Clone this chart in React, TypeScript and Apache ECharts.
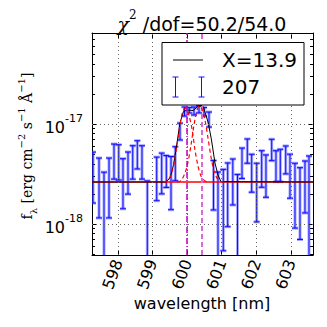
import React, { useEffect, useRef } from 'react';
import * as echarts from 'echarts';

// ---- data (flux in units of 1e-18 erg cm^-2 s^-1 Å^-1) ----
const wavelength = [597.283, 597.457, 597.601, 597.746, 597.890, 598.026, 598.150, 598.295, 598.431, 598.564, 598.699, 598.853, 599.124, 599.269, 599.402, 599.538, 599.662, 599.798, 599.928, 600.066, 600.202, 600.347, 600.491, 600.636, 600.766, 600.896, 601.049, 601.176, 601.324, 601.460, 601.590, 601.743, 601.870, 602.014, 602.159, 602.283, 602.448, 602.572, 602.697, 602.853, 602.977, 603.121, 603.266, 603.410, 603.526];
const flux = [3.43, 2.86, 1.2, 2.86, 4.56, 4.48, 2.96, 3.62, 4.44, 5.18, 4.44, 0.8, 3.19, 3.56, 3.58, 3.06, 4.32, 8.56, 13.4, 13.75, 13.55, 14.1, 13.3, 11.25, 2.85, 1.0, 2.03, 2.51, 3.01, 1.0, 4.3, 5.57, 3.53, 2.55, 3.87, 3.38, 5.67, 4.03, 4.12, 4.6, 3.4, 2.48, 2.18, 2.78, 1.4];
const fluxErr = [1.81, 1.71, 2.1, 1.71, 1.75, 1.73, 1.54, 1.63, 1.63, 1.63, 1.63, 1.9, 1.48, 1.56, 1.26, 1.67, 1.61, 1.64, 1.4, 0.85, 1.25, 1.2, 1.3, 1.93, 1.47, 2.31, 1.49, 1.57, 1.46, 2.13, 1.45, 1.52, 1.45, 1.5, 1.54, 1.53, 1.37, 1.38, 1.47, 1.43, 1.59, 1.57, 1.48, 1.49, 3.39];

const modelW = [597.254, 599.384, 599.509, 599.610, 599.711, 599.798, 599.893, 600.000, 600.182, 600.327, 600.471, 600.616, 600.708, 600.809, 600.896, 600.983, 603.642];
const modelF = [2.63, 2.63, 2.88, 3.89, 6.46, 10.23, 13.27, 13.8, 13.65, 15.14, 14.96, 10.23, 6.92, 4.07, 3.09, 2.65, 2.63];

const contW = [597.254, 603.642];
const contF = [2.63, 2.63];

const comp1W = [599.306, 599.451, 599.566, 599.653, 599.740, 599.827, 599.884, 599.942, 600.000, 600.058, 600.145, 600.231, 600.318, 600.405, 600.520, 600.636];
const comp1F = [2.63, 2.75, 3.31, 4.57, 7.24, 11.2, 13.5, 14.3, 13.8, 12.2, 8.91, 5.50, 3.80, 3.02, 2.69, 2.63];
const comp2W = [599.711, 599.827, 599.942, 600.029, 600.116, 600.202, 600.289, 600.361, 600.434, 600.520, 600.607, 600.694, 600.780, 600.867, 600.983, 601.098];
const comp2F = [2.63, 2.72, 3.24, 4.17, 6.17, 9.77, 13.8, 15.1, 14.1, 10.96, 7.24, 4.68, 3.39, 2.88, 2.66, 2.63];

const lineCenters = [600.0, 600.425];

const xTicks = [598, 599, 600, 601, 602, 603];
const yMajorTicks = [1, 10];
const yMajorExp = ['-18', '-17'];
const yMinorTicks = [0.5, 0.6, 0.7, 0.8, 0.9, 2, 3, 4, 5, 6, 7, 8, 9, 20, 30, 40, 50, 60, 70, 80];

const legendLabels = ['X=13.9', '207'];
const titleRest = ' /dof=50.2/54.0';

const X_MIN = 597.254;
const X_MAX = 603.642;
const Y_MIN = 0.49;
const Y_MAX = 81.3;

const SANS = 'DejaVu Sans';
const SERIF = 'DejaVu Serif';

function buildOption() {
  const gridL = 92, gridT = 33, gridR = 14, gridB = 72;

  const xAxisBase = {
    type: 'value', min: X_MIN, max: X_MAX, gridIndex: 0,
    axisLine: { show: true, onZero: false, lineStyle: { color: '#000', width: 1 } },
    axisTick: { show: true, inside: true, length: 5, customValues: xTicks, lineStyle: { color: '#000', width: 1 } },
    splitLine: { show: false },
  };
  const yAxisBase = {
    type: 'log', logBase: 10, min: Y_MIN, max: Y_MAX, gridIndex: 0,
    axisLine: { show: true, onZero: false, lineStyle: { color: '#000', width: 1 } },
    splitLine: { show: false },
    minorTick: { show: false },
  };

  const errData = wavelength.map((w, i) => [w, flux[i], fluxErr[i]]);
  const LZ = 100;

  return {
    animation: false,
    backgroundColor: '#fff',
    grid: { left: gridL, top: gridT, right: gridR, bottom: gridB, containLabel: false },
    xAxis: [
      {
        ...xAxisBase, position: 'bottom',
        axisLabel: {
          show: true, customValues: xTicks, rotate: 70, fontSize: 16, color: '#000', fontFamily: SANS, margin: 5,
          formatter: (v: number) => String(Math.round(v)),
        },
      },
      { ...xAxisBase, position: 'top', axisLabel: { show: false } },
    ],
    yAxis: [
      {
        ...yAxisBase, position: 'left',
        axisTick: { show: true, inside: true, length: 5, customValues: yMajorTicks, lineStyle: { color: '#000' } },
        axisLabel: {
          show: true, customValues: yMajorTicks, margin: 9, color: '#000',
          formatter: (v: number) => {
            const idx = yMajorTicks.findIndex((t) => Math.abs(t - v) / t < 1e-6);
            return idx >= 0 ? `{b|10}{s|${yMajorExp[idx]}}` : '';
          },
          rich: {
            b: { fontSize: 16, fontFamily: SANS, color: '#000', lineHeight: 22, verticalAlign: 'bottom' },
            s: { fontSize: 11, fontFamily: SANS, color: '#000', lineHeight: 22, verticalAlign: 'top' },
          },
        },
      },
      {
        ...yAxisBase, position: 'right',
        axisTick: { show: true, inside: true, length: 5, customValues: yMajorTicks, lineStyle: { color: '#000' } },
        axisLabel: { show: false },
      },
      {
        ...yAxisBase, position: 'left',
        axisLine: { show: false },
        axisTick: { show: true, inside: true, length: 3, customValues: yMinorTicks, lineStyle: { color: '#000' } },
        axisLabel: { show: false },
      },
      {
        ...yAxisBase, position: 'right',
        axisLine: { show: false },
        axisTick: { show: true, inside: true, length: 3, customValues: yMinorTicks, lineStyle: { color: '#000' } },
        axisLabel: { show: false },
      },
    ],
    series: [
      {
        type: 'line', data: [], z: 1, silent: true,
        markLine: {
          silent: true, symbol: ['none', 'none'], label: { show: false },
          lineStyle: { color: '#666', width: 1, type: [1, 3] },
          data: [
            ...xTicks.map((v) => ({ xAxis: v })),
            ...yMajorTicks.map((v) => ({ yAxis: v })),
          ],
        },
      },
      {
        type: 'custom', name: 'errors', z: 2, clip: true,
        data: errData,
        encode: { x: 0, y: 1 },
        renderItem: (params: any, api: any) => {
          const x = api.value(0);
          const c = api.value(1);
          const e = api.value(2);
          const hi = c + e;
          let lo = c - e;
          const clipped = lo <= 0;
          if (clipped) lo = Y_MIN * 0.1;
          const pT = api.coord([x, hi]);
          const pB = api.coord([x, lo]);
          const cw = 3;
          const mk = (stroke: string, lw: number) => {
            const arr: any[] = [
              { type: 'line', shape: { x1: pT[0], y1: pT[1], x2: pB[0], y2: pB[1] }, style: { stroke, lineWidth: lw } },
              { type: 'line', shape: { x1: pT[0] - cw, y1: pT[1], x2: pT[0] + cw, y2: pT[1] }, style: { stroke, lineWidth: lw } },
            ];
            if (!clipped) {
              arr.push({ type: 'line', shape: { x1: pB[0] - cw, y1: pB[1], x2: pB[0] + cw, y2: pB[1] }, style: { stroke, lineWidth: lw } });
            }
            return arr;
          };
          return { type: 'group', children: [...mk('rgba(60,60,255,0.45)', 3), ...mk('#1010ff', 1)] };
        },
      },
      {
        type: 'line', name: 'continuum', z: 3, symbol: 'none', silent: true,
        data: contW.map((w, i) => [w, contF[i]]),
        lineStyle: { color: '#ff0000', width: 1.6 },
      },
      {
        type: 'line', name: 'model', z: 4, symbol: 'none', silent: true,
        data: modelW.map((w, i) => [w, modelF[i]]),
        lineStyle: { color: '#000', width: 1 },
      },
      {
        type: 'line', name: 'comp1', z: 5, symbol: 'none', silent: true, smooth: 0.3,
        data: comp1W.map((w, i) => [w, comp1F[i]]),
        lineStyle: { color: '#ff0000', width: 1.2, type: [4, 3] },
      },
      {
        type: 'line', name: 'comp2', z: 5, symbol: 'none', silent: true, smooth: 0.3,
        data: comp2W.map((w, i) => [w, comp2F[i]]),
        lineStyle: { color: '#ff0000', width: 1.2, type: [4, 3] },
      },
      {
        type: 'line', data: [], z: 6, silent: true,
        markLine: {
          silent: true, symbol: ['none', 'none'], label: { show: false },
          data: [
            { xAxis: lineCenters[0], lineStyle: { color: '#bf00bf', width: 1.5, type: [6, 2, 1, 2] } },
            { xAxis: lineCenters[1], lineStyle: { color: '#dd66dd', width: 2, type: [5, 3] } },
          ],
        },
      },
    ],
    graphic: [
      {
        type: 'text', x: 202, y: 21, z: LZ,
        style: {
          text: `{chi|χ}{sup|2}{rest|${titleRest}}`,
          align: 'center', verticalAlign: 'middle',
          rich: {
            chi: { fontFamily: SERIF, fontStyle: 'italic', fontSize: 19, lineHeight: 24, verticalAlign: 'bottom', fill: '#000' },
            sup: { fontFamily: SERIF, fontSize: 12, lineHeight: 24, verticalAlign: 'top', fill: '#000' },
            rest: { fontFamily: SANS, fontSize: 19, lineHeight: 24, verticalAlign: 'bottom', fill: '#000' },
          },
        },
      },
      {
        type: 'text', x: 27, y: 146, rotation: Math.PI / 2, z: LZ,
        style: {
          text: '{n|f}{sub|λ}{n| [erg cm}{sup|−2}{n| s}{sup|−1}{n| Å}{sup|−1}{n|]}',
          align: 'center', verticalAlign: 'middle',
          rich: {
            n: { fontFamily: SERIF, fontSize: 14, lineHeight: 22, verticalAlign: 'middle', fill: '#000' },
            sub: { fontFamily: SERIF, fontSize: 10, lineHeight: 22, verticalAlign: 'bottom', fill: '#000' },
            sup: { fontFamily: SERIF, fontSize: 10, lineHeight: 22, verticalAlign: 'top', fill: '#000' },
          },
        },
      },
      {
        type: 'text', x: 202, y: 303, z: LZ,
        style: { text: 'wavelength [nm]', fontFamily: SANS, fontSize: 16, fill: '#000', align: 'center', verticalAlign: 'middle' },
      },
      { type: 'rect', z: LZ, shape: { x: 162, y: 42.5, width: 142, height: 62.5 }, style: { fill: '#fff', stroke: '#000', lineWidth: 1 } },
      { type: 'line', z: LZ + 1, shape: { x1: 173, y1: 60, x2: 203, y2: 60 }, style: { stroke: '#000', lineWidth: 1 } },
      { type: 'text', z: LZ + 1, x: 222, y: 60, style: { text: legendLabels[0], fontFamily: SANS, fontSize: 20, fill: '#000', align: 'left', verticalAlign: 'middle' } },
      { type: 'line', z: LZ + 1, shape: { x1: 175.5, y1: 77, x2: 175.5, y2: 97 }, style: { stroke: '#1010ff', lineWidth: 1 } },
      { type: 'line', z: LZ + 1, shape: { x1: 172.5, y1: 77, x2: 178.5, y2: 77 }, style: { stroke: '#1010ff', lineWidth: 1 } },
      { type: 'line', z: LZ + 1, shape: { x1: 172.5, y1: 97, x2: 178.5, y2: 97 }, style: { stroke: '#1010ff', lineWidth: 1 } },
      { type: 'line', z: LZ + 1, shape: { x1: 201.5, y1: 77, x2: 201.5, y2: 97 }, style: { stroke: '#1010ff', lineWidth: 1 } },
      { type: 'line', z: LZ + 1, shape: { x1: 198.5, y1: 77, x2: 204.5, y2: 77 }, style: { stroke: '#1010ff', lineWidth: 1 } },
      { type: 'line', z: LZ + 1, shape: { x1: 198.5, y1: 97, x2: 204.5, y2: 97 }, style: { stroke: '#1010ff', lineWidth: 1 } },
      { type: 'text', z: LZ + 1, x: 222, y: 87, style: { text: legendLabels[1], fontFamily: SANS, fontSize: 20, fill: '#000', align: 'left', verticalAlign: 'middle' } },
    ],
  };
}

export default function App() {
  const ref = useRef<HTMLDivElement>(null);
  useEffect(() => {
    document.body.style.margin = '0';
    const chart = echarts.init(ref.current as HTMLDivElement, null, { renderer: 'svg' });
    chart.setOption(buildOption() as any);
    return () => chart.dispose();
  }, []);
  return <div ref={ref} style={{ width: 327, height: 327 }} />;
}
